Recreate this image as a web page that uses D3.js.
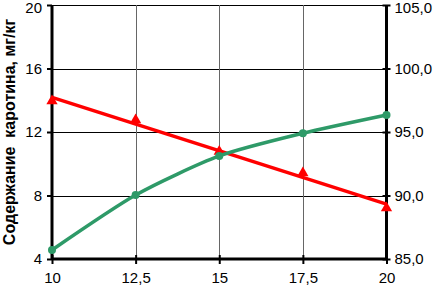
<!DOCTYPE html>
<html><head><meta charset="utf-8">
<script src="https://cdn.jsdelivr.net/npm/d3@7"></script>
<style>html,body{margin:0;padding:0;background:#fff;}svg{display:block;}</style>
</head><body>
<svg id="c" width="436" height="290"></svg>
<script>
const xValues = [10, 12.5, 15, 17.5, 20];
const xTickLabels = ["10", "12,5", "15", "17,5", "20"];
const caroteneValues = [4.57, 8.03, 10.49, 11.92, 13.07];
const rightValues = [97.44, 95.94, 93.46, 91.77, 89.02];
const leftTicks = [4, 8, 12, 16, 20];
const rightTicks = [85, 90, 95, 100, 105];
const rightTickLabels = ["85,0", "90,0", "95,0", "100,0", "105,0"];
const yTitle = "Содержание  каротина, мг/кг";

const svg = d3.select("#c");
const L = 52, R = 386.5, T = 5, B = 259;
const x = d3.scaleLinear().domain([10, 20]).range([L, R]);
const yL = d3.scaleLinear().domain([4, 20]).range([B, T]);
const yR = d3.scaleLinear().domain([85, 105]).range([B, T]);
const font = "Liberation Sans, Arial, sans-serif";

// gridlines
const g = svg.append("g");
g.selectAll("line.h").data(leftTicks.slice(1)).enter().append("line")
  .attr("x1", L).attr("x2", R).attr("y1", d => Math.round(yL(d)) + 0.5).attr("y2", d => Math.round(yL(d)) + 0.5)
  .attr("stroke", "#000").attr("stroke-width", 1);
g.selectAll("line.v").data(xValues.slice(1, -1)).enter().append("line")
  .attr("y1", T).attr("y2", B).attr("x1", d => Math.round(x(d)) + 0.5).attr("x2", d => Math.round(x(d)) + 0.5)
  .attr("stroke", "#666").attr("stroke-width", 1);

// axes
const axL = d3.axisLeft(yL).tickValues(leftTicks).tickSize(5).tickPadding(5).tickFormat(d3.format("d"));
const gL = svg.append("g").attr("transform", `translate(${L},0)`).call(axL);
const axR = d3.axisRight(yR).tickValues(rightTicks).tickSize(4).tickPadding(4).tickFormat((d, i) => rightTickLabels[i]);
const gR = svg.append("g").attr("transform", `translate(${R},0)`).call(axR);
const axB = d3.axisBottom(x).tickValues(xValues).tickSize(5).tickPadding(8).tickFormat((d, i) => xTickLabels[i]);
const gB = svg.append("g").attr("transform", `translate(0,${B})`).call(axB);
[gL, gR, gB].forEach(a => {
  a.select(".domain").attr("stroke", "#000").attr("stroke-width", 3);
  a.selectAll(".tick line").attr("stroke", "#000").attr("stroke-width", 2);
  a.selectAll(".tick text").attr("font-family", font).attr("font-size", 15).attr("fill", "#000");
});
gL.selectAll(".tick text").filter(d => d === 20).attr("dy", "0.52em");
gR.selectAll(".tick text").filter(d => d === 105).attr("dy", "0.52em");
gR.selectAll(".tick line").attr("x1", -4);
gB.selectAll(".tick line").attr("y1", -4);
gL.select(".domain").attr("d", `M0,${T}V${B}`);
gR.select(".domain").attr("d", `M0,${T}V${B}`);
gB.select(".domain").attr("d", `M${L},0H${R}`);

// red linear trend from data
const mx = d3.mean(xValues), my = d3.mean(rightValues);
const slope = d3.sum(xValues, (v, i) => (v - mx) * (rightValues[i] - my)) / d3.sum(xValues, v => (v - mx) ** 2);
const icpt = my - slope * mx;
svg.append("line")
  .attr("x1", x(10)).attr("x2", x(20))
  .attr("y1", yR(icpt + slope * 10)).attr("y2", yR(icpt + slope * 20))
  .attr("stroke", "#ff0000").attr("stroke-width", 3.5);
svg.selectAll("path.tri").data(xValues).enter().append("path")
  .attr("d", d3.symbol().type(d3.symbolTriangle).size(55))
  .attr("transform", (d, i) => `translate(${x(d)},${yR(rightValues[i])})`)
  .attr("fill", "#ff0000");

// green smooth line
const line = d3.line().x(d => x(d[0])).y(d => yL(d[1])).curve(d3.curveCardinal.tension(0.3));
svg.append("path").datum(xValues.map((v, i) => [v, caroteneValues[i]]))
  .attr("d", line).attr("fill", "none").attr("stroke", "#2e9a68").attr("stroke-width", 3.5);
svg.selectAll("circle.g").data(xValues).enter().append("circle")
  .attr("cx", d => x(d)).attr("cy", (d, i) => yL(caroteneValues[i])).attr("r", 4)
  .attr("fill", "#2e9a68");

// title
svg.append("text").attr("transform", `translate(15,${(T + B) / 2}) rotate(-90)`)
  .attr("text-anchor", "middle").attr("font-family", font).attr("font-weight", "bold")
  .attr("font-size", 16).attr("fill", "#000").style("white-space", "pre").text(yTitle);
</script>
</body></html>
